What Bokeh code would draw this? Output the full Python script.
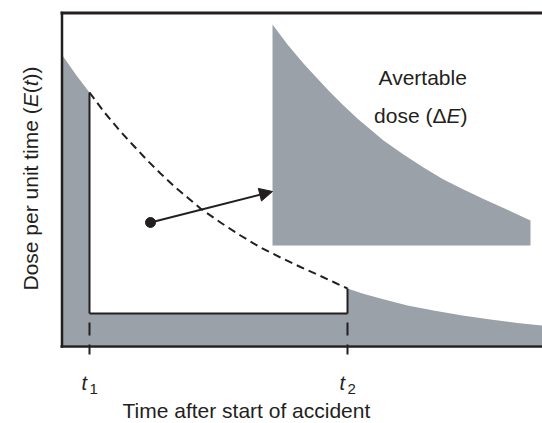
import math
import numpy as np
from bokeh.plotting import figure
from bokeh.models import Range1d, Label, Arrow, NormalHead
from bokeh.embed import file_html
from bokeh.resources import INLINE

# ---- data (arbitrary units) ----
time_samples = [0, 14, 27, 42, 58, 70, 83, 98, 113, 125, 138, 158, 178, 198, 218, 238,
                258, 272, 285, 300, 318, 345, 371, 400, 428, 455, 480]
dose_samples = [290, 270, 253, 233, 214, 201, 187, 172, 158, 148, 137, 123, 110, 98, 88, 78.5,
                69.5, 63, 57, 52, 47, 40, 35, 30, 26, 22.5, 20]
t1 = 27
t2 = 285
residual_level = 32
dot_point = (88, 123)
arrow_end = (210, 154)
inset_shift = (183, 68)

INK = "#231f20"
GRAY = "#9ba1a8"
FONT = "Liberation Sans"

t = np.array(time_samples, dtype=float)
d = np.array(dose_samples, dtype=float)
t_end = t[-1]

# the frame spans the whole canvas so that every text lies inside it
p = figure(width=542, height=423, output_backend="svg", toolbar_location=None,
           x_range=Range1d(-62, 480), y_range=Range1d(-78, 345),
           min_border_left=0, min_border_right=0, min_border_top=0, min_border_bottom=0)
p.outline_line_color = None
p.axis.visible = False
p.grid.visible = False
p.background_fill_color = "white"
p.border_fill_color = "white"

# gray area (total dose minus avertable dose)
pre = t <= t1
post = t >= t2
xs = [0.0] + list(t[pre]) + [t1, t2] + list(t[post]) + [t_end, 0.0]
ys = [0.0] + list(d[pre]) + [residual_level, residual_level] + list(d[post]) + [0.0, 0.0]
p.patch(xs, ys, fill_color=GRAY, line_color=None)

# inset: avertable dose region, shifted
mid = (t >= t1) & (t <= t2)
ix = list(t[mid] + inset_shift[0]) + [t2 + inset_shift[0], t1 + inset_shift[0]]
iy = list(d[mid] + inset_shift[1]) + [residual_level + inset_shift[1], residual_level + inset_shift[1]]
p.patch(ix, iy, fill_color=GRAY, line_color=None)

# dashed curve between t1 and t2
p.line(t[mid], d[mid], line_color=INK, line_width=2, line_dash="8 5")

# solid lines
d_t1 = d[t == t1][0]
d_t2 = d[t == t2][0]
p.segment(x0=[t1, t1, t2], y0=[residual_level] * 3,
          x1=[t1, t2, t2], y1=[d_t1, residual_level, d_t2],
          line_color=INK, line_width=2)
# dashed time markers (continue below the axis)
p.segment(x0=[t1, t2], y0=[residual_level] * 2, x1=[t1, t2], y1=[-9, -9],
          line_color=INK, line_width=2, line_dash="13 9", line_dash_offset=13)

# frame lines: left, bottom, top
p.segment(x0=[-0.5, -2, -2], y0=[-2.25, -1, 332.5], x1=[-0.5, t_end, t_end], y1=[333.75, -1, 332.5],
          line_color=INK, line_width=[2.5, 2.5, 3])

# arrow and dot
p.add_layout(Arrow(x_start=dot_point[0], y_start=dot_point[1], x_end=arrow_end[0], y_end=arrow_end[1],
                   line_color=INK, line_width=2,
                   end=NormalHead(size=13, fill_color=INK, line_color=INK)))
p.scatter([dot_point[0]], [dot_point[1]], size=10, fill_color=INK, line_color=INK)

# ---- texts (data units) ----
def lab(text, x, y, size="21px", style="normal", align="left", angle=0.0, x_offset=0):
    p.add_layout(Label(x=x, y=y, x_units="data", y_units="data", text=text, x_offset=x_offset,
                       text_font=FONT, text_font_size=size, text_font_style=style,
                       text_color=INK, text_align=align, text_baseline="alphabetic",
                       angle=angle))

# Avertable dose (ΔE)
lab("Avertable", 316, 268)
lab("dose (\u0394", 384, 230, align="right")
lab("E", 398, 230, style="italic", align="right")
lab(")", 398, 230)

# tick labels t1, t2
for tk, sub in ((t1, "1"), (t2, "2")):
    lab("t", tk, -37, size="20px", style="italic", x_offset=-8)
    lab(sub, tk, -43, size="15px")

# x label
lab("Time after start of accident", 60, -65)

# y label, rotated, pieces
fs = 21
y0 = 55
xb = -32
ang = math.pi / 2
lab("Dose per unit time (", xb, y0, angle=ang)
lab("E", xb, y0 + 8.725 * fs, style="italic", angle=ang)
lab("(", xb, y0 + 9.392 * fs, angle=ang)
lab("t", xb, y0 + 9.725 * fs, style="italic", angle=ang)
lab("))", xb, y0 + 10.003 * fs, angle=ang)

open("out.html", "w").write(file_html(p, INLINE))
